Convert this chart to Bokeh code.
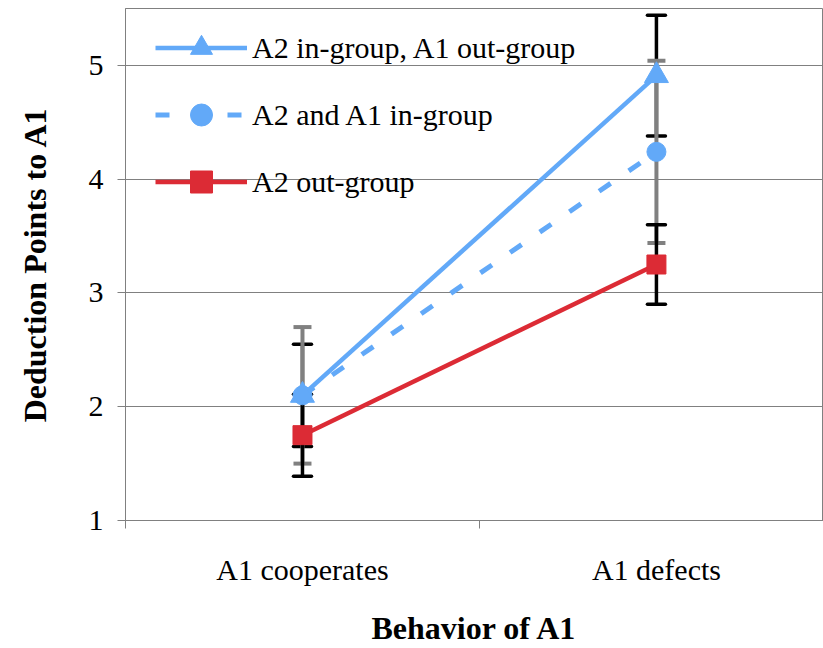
from bokeh.plotting import figure
from bokeh.models import (ColumnDataSource, Whisker, TeeHead, FixedTicker,
                          Legend, LegendItem, Range1d)
from bokeh.embed import file_html
from bokeh.resources import INLINE

# ---- data ----
categories = ["A1 cooperates", "A1 defects"]
series_names = ["A2 in-group, A1 out-group", "A2 and A1 in-group", "A2 out-group"]
in_out_vals = [2.10, 4.91]
in_out_err = [0.45, 0.53]
both_in_vals = [2.10, 4.24]
both_in_err = [0.60, 0.80]
out_vals = [1.75, 3.25]
out_err = [0.36, 0.35]
y_ticks = [1, 2, 3, 4, 5]

BLUE = "#62A9F8"
RED = "#DC2B35"
GRAY = "#808080"
FONT = "Liberation Serif"

xs = [i + 0.5 for i in range(len(categories))]
bounds = [float(i) for i in range(len(categories) + 1)]


def src(vals, errs):
    return ColumnDataSource(dict(
        x=xs, y=vals,
        lo=[v - e for v, e in zip(vals, errs)],
        hi=[v + e for v, e in zip(vals, errs)],
    ))


s_in_out = src(in_out_vals, in_out_err)
s_both = src(both_in_vals, both_in_err)
s_out = src(out_vals, out_err)

p = figure(width=823, height=648, output_backend="svg", toolbar_location=None,
           x_range=Range1d(0, 1.972), y_range=Range1d(1, 5.5),
           min_border_left=125, min_border_right=0, min_border_top=8,
           min_border_bottom=127)
p.background_fill_color = "white"
p.border_fill_color = "white"
p.outline_line_color = GRAY
p.outline_line_width = 1

# axes
p.xaxis.ticker = FixedTicker(ticks=xs, minor_ticks=bounds)
p.xaxis.major_label_overrides = {x: c for x, c in zip(xs, categories)}
p.xaxis.major_tick_out = 0
p.xaxis.major_tick_in = 0
p.xaxis.minor_tick_out = 8
p.xaxis.minor_tick_in = 0
p.xaxis.minor_tick_line_color = GRAY
p.xaxis.major_label_standoff = 24
p.xaxis.axis_label = "Behavior of A1"
p.xaxis.axis_label_standoff = 21

p.yaxis.ticker = FixedTicker(ticks=y_ticks)
p.yaxis.major_tick_out = 8
p.yaxis.major_tick_in = 0
p.yaxis.minor_tick_line_color = None
p.yaxis.major_tick_line_color = GRAY
p.yaxis.major_label_standoff = 14
p.yaxis.axis_label = "Deduction Points to A1"
p.yaxis.axis_label_standoff = 33

for ax in (p.xaxis, p.yaxis):
    ax.axis_line_color = GRAY
    ax.major_label_text_font = FONT
    ax.major_label_text_font_size = "30px"
    ax.major_label_text_color = "black"
    ax.axis_label_text_font = FONT
    ax.axis_label_text_font_size = "32px"
    ax.axis_label_text_font_style = "bold"
    ax.axis_label_text_color = "black"

p.xgrid.grid_line_color = None
p.ygrid.ticker = FixedTicker(ticks=y_ticks)
p.ygrid.grid_line_color = GRAY
p.ygrid.grid_line_width = 1

# error bars
def add_whisker(source, color, width, cap):
    w = Whisker(source=source, base="x", upper="hi", lower="lo",
                dimension="height", line_color=color, line_width=width,
                upper_head=TeeHead(size=18, line_color=color, line_width=width, line_cap=cap),
                lower_head=TeeHead(size=18, line_color=color, line_width=width, line_cap=cap))
    w.level = "underlay"
    p.add_layout(w)

add_whisker(s_in_out, "black", 3.5, "round")
add_whisker(s_both, GRAY, 4, "butt")
add_whisker(s_out, "black", 3.5, "round")

# series
l_both = p.line("x", "y", source=s_both, line_color=BLUE, line_width=5,
                line_dash="14 22")
m_both = p.scatter("x", "y", source=s_both, marker="circle", size=19,
                   fill_color=BLUE, line_color=BLUE)
l_out = p.line("x", "y", source=s_out, line_color=RED, line_width=4.5)
m_out = p.scatter("x", "y", source=s_out, marker="square", size=19,
                  fill_color=RED, line_color=RED)
l_in = p.line("x", "y", source=s_in_out, line_color=BLUE, line_width=4.5)
m_in = p.scatter("x", "y", source=s_in_out, marker="triangle", size=24,
                 fill_color=BLUE, line_color=BLUE)

legend = Legend(items=[
    LegendItem(label=series_names[0], renderers=[l_in, m_in]),
    LegendItem(label=series_names[1], renderers=[l_both, m_both]),
    LegendItem(label=series_names[2], renderers=[l_out, m_out]),
], location=(30, 311))
legend.margin = 0
legend.padding = 0
legend.border_line_color = None
legend.background_fill_alpha = 0
legend.glyph_width = 92
legend.glyph_height = 55
legend.label_height = 55
legend.spacing = 12
legend.label_standoff = 5
legend.label_text_font = FONT
legend.label_text_font_size = "30px"
legend.label_text_color = "black"
p.add_layout(legend)

open("out.html", "w").write(file_html(p, INLINE))
